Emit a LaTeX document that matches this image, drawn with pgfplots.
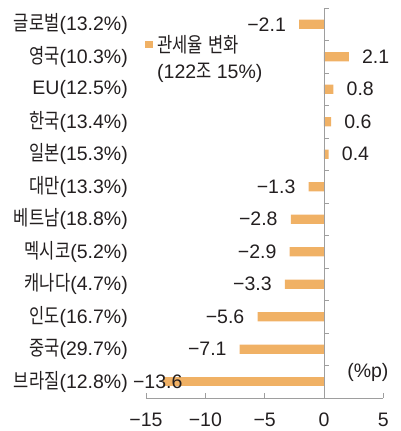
\documentclass[border=0pt]{standalone}
\usepackage{fontspec}
\setmainfont{Liberation Sans}
\newfontfamily\krfont[Scale=1.06, FakeStretch=0.8]{Noto Sans CJK KR}
\newcommand{\kr}[1]{{\krfont #1}}
\usepackage{pgfplots}
\pgfplotsset{compat=1.18}
\definecolor{barcol}{HTML}{F0B165}
\definecolor{axcol}{HTML}{9E9E9E}
\definecolor{txt}{HTML}{231F20}

\begin{document}
\begin{tikzpicture}[font=\fontsize{19.5}{23}\selectfont, x=1pt, y=1pt]
\useasboundingbox (-146,-33) rectangle (254,398);
\begin{axis}[
    at={(0,0)}, anchor=south west,
    scale only axis, width=237.3pt, height=390pt,
    xbar, bar width=9.2pt, bar shift=0pt,
    xmin=-15, xmax=5,
    ymin=-0.5, ymax=11.5,
    axis x line*=bottom, axis y line*=left,
    y axis line style={draw=none},
    x axis line style={draw=axcol, line width=0.8pt},
    tick align=inside, major tick length=5pt,
    x tick style={draw=axcol, line width=0.8pt},
    y tick style={draw=none},
    xtick={-15,-10,-5,0,5},
    xticklabels={−15,−10,−5,0,5},
    xticklabel style={inner sep=0pt, anchor=north, yshift=-15pt, text=txt},
    ytick={0,...,11},
    yticklabels={\kr{브라질}(12.8\%),\kr{중국}(29.7\%),\kr{인도}(16.7\%),\kr{캐나다}(4.7\%),
        \kr{멕시코}(5.2\%),\kr{베트남}(18.8\%),\kr{대만}(13.3\%),\kr{일본}(15.3\%),
        \kr{한국}(13.4\%),EU(12.5\%),\kr{영국}(10.3\%),\kr{글로벌}(13.2\%)},
    yticklabel style={inner sep=0pt, anchor=east, xshift=-18pt, text=txt},
    clip=false,
    legend style={draw=none, fill=none, at={(0,1)}, anchor=north west, inner sep=0pt,
        xshift=-1pt, yshift=-27pt, font=\fontsize{19.5}{26.5}\selectfont,
        nodes={align=left, inner sep=0pt, text=txt},
        /tikz/every odd column/.append style={column sep=4.3pt}},
    legend cell align=left,
    legend image code/.code={\fill[barcol] (0pt,9.5pt) rectangle (7.7pt,17.1pt);},
]
\addplot[fill=barcol, draw=none, nodes near coords, point meta=explicit symbolic,
    every node near coord/.append style={anchor=east, inner sep=0pt, xshift=-13pt, text=txt}]
    coordinates {(-7.1,1)[−7.1] (-5.6,2)[−5.6] (-3.3,3)[−3.3] (-2.9,4)[−2.9]
                 (-2.8,5)[−2.8] (-1.3,6)[−1.3] (-2.1,11)[−2.1]};
\addlegendentry{\kr{관세율} \kr{변화}\\(122\kr{조} 15\%)}
\addplot[fill=barcol, draw=none, nodes near coords, point meta=explicit symbolic,
    every node near coord/.append style={anchor=west, inner sep=0pt, xshift=13pt, text=txt}]
    coordinates {(0.4,7)[0.4] (0.6,8)[0.6] (0.8,9)[0.8] (2.1,10)[2.1]};
\addplot[fill=barcol, draw=none, nodes near coords, point meta=explicit symbolic,
    every node near coord/.append style={anchor=east, inner sep=0pt, xshift=20pt, text=txt}]
    coordinates {(-13.6,0)[−13.6]};
\draw[axcol, line width=0.8pt] (axis cs:0,-0.5) -- (axis cs:0,11.5);
\pgfplotsinvokeforeach{0.5,1.5,...,11.5}{
    \draw[axcol, line width=0.8pt] (axis cs:0,#1) -- ++(5pt,0pt);
}
\node[text=txt, anchor=center] at (axis cs:3.7,0.28) {(\%p)};
\end{axis}
\end{tikzpicture}
\end{document}
